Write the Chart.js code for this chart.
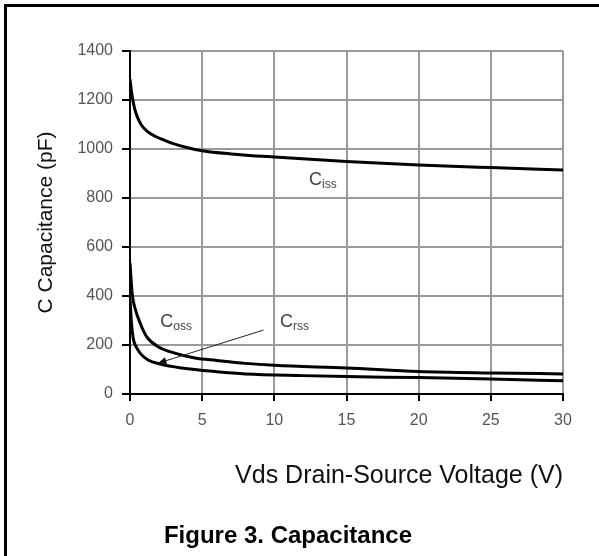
<!DOCTYPE html>
<html>
<head>
    <title>Figure 3. Capacitance</title>
    <script src="https://cdn.jsdelivr.net/npm/chart.js"></script>
    <style>
        html, body { margin: 0; padding: 0; background: #fff; }
        #frame {
            position: relative;
            width: 599px;
            height: 556px;
            overflow: hidden;
        }
        #frame::before {
            content: '';
            position: absolute;
            left: 4px; top: 4px; right: 0; bottom: 0;
            border-top: 3px solid #000;
            border-left: 3px solid #000;
            pointer-events: none;
            z-index: 2;
        }
    </style>
</head>
<body>
    <div id="frame">
        <canvas id="capChart" width="599" height="556"></canvas>
    </div>

    <script>
        // Vds (V) and capacitance (pF)
        const cissVds = [0, 0.15, 0.3, 0.5, 0.8, 1.2, 1.7, 2.3, 3, 4, 5, 7, 10, 15, 20, 25, 30];
        const cissPf  = [1285, 1215, 1170, 1132, 1097, 1072, 1053, 1038, 1022, 1005, 993, 980, 967, 949, 935, 924, 914];

        const cossVds = [0, 0.15, 0.35, 0.7, 1.15, 1.95, 3.1, 4.5, 6, 8, 10, 15, 20, 25, 30];
        const cossPf  = [535, 410, 350, 290, 234, 193, 167, 147, 137, 125, 117, 106, 92, 86, 82];

        const crssVds = [0, 0.1, 0.23, 0.45, 0.7, 1.25, 2.1, 3.6, 6, 8, 12, 15, 20, 25, 30];
        const crssPf  = [390, 290, 225, 190, 167, 139, 122, 106, 91, 82, 75, 71, 67, 61, 54];

        const xTicks = [0, 5, 10, 15, 20, 25, 30];
        const yTicks = [0, 200, 400, 600, 800, 1000, 1200, 1400];

        // curve labels (main letter + subscript) and the Crss pointer, in data units
        const curveLabels = [
            { x: 12.4, y: 853, main: 'C', sub: 'iss' },
            { x: 2.1, y: 272, main: 'C', sub: 'oss' },
            { x: 10.4, y: 272, main: 'C', sub: 'rss' }
        ];
        const crssArrow = { from: [9.25, 261], to: [1.9, 125] };

        function toPoints(xs, ys) {
            return xs.map((x, i) => ({ x: x, y: ys[i] }));
        }

        const FONT = "'Liberation Sans', Arial, sans-serif";

        const annotate = {
            id: 'annotate',
            afterDatasetsDraw(chart) {
                const ctx = chart.ctx;
                const xs = chart.scales.x, ys = chart.scales.y;
                ctx.save();

                // pointer to Crss
                const x1 = xs.getPixelForValue(crssArrow.from[0]);
                const y1 = ys.getPixelForValue(crssArrow.from[1]);
                const x2 = xs.getPixelForValue(crssArrow.to[0]);
                const y2 = ys.getPixelForValue(crssArrow.to[1]);
                ctx.strokeStyle = '#222';
                ctx.lineWidth = 1;
                ctx.beginPath();
                ctx.moveTo(x1, y1);
                ctx.lineTo(x2, y2);
                ctx.stroke();
                const ang = Math.atan2(y2 - y1, x2 - x1);
                const len = 9, wid = 3.5;
                ctx.fillStyle = '#111';
                ctx.beginPath();
                ctx.moveTo(x2, y2);
                ctx.lineTo(x2 - len * Math.cos(ang) - wid * Math.sin(ang), y2 - len * Math.sin(ang) + wid * Math.cos(ang));
                ctx.lineTo(x2 - len * Math.cos(ang) + wid * Math.sin(ang), y2 - len * Math.sin(ang) - wid * Math.cos(ang));
                ctx.closePath();
                ctx.fill();

                // curve labels
                ctx.fillStyle = '#444';
                ctx.textBaseline = 'alphabetic';
                ctx.textAlign = 'left';
                curveLabels.forEach(l => {
                    const px = xs.getPixelForValue(l.x);
                    const py = ys.getPixelForValue(l.y);
                    ctx.font = '18px ' + FONT;
                    ctx.fillText(l.main, px, py);
                    const w = ctx.measureText(l.main).width;
                    ctx.font = '12px ' + FONT;
                    ctx.fillText(l.sub, px + w, py + 3);
                });

                // figure caption
                ctx.fillStyle = '#000';
                ctx.font = 'bold 24px ' + FONT;
                ctx.textAlign = 'center';
                ctx.textBaseline = 'middle';
                ctx.fillText('Figure 3. Capacitance', 288, 536);
                ctx.restore();
            }
        };

        const lineStyle = {
            borderColor: '#000',
            borderWidth: 3,
            pointRadius: 0,
            showLine: true,
            fill: false,
            cubicInterpolationMode: 'monotone'
        };

        const ctx = document.getElementById('capChart').getContext('2d');
        const chart = new Chart(ctx, {
            type: 'scatter',
            data: {
                datasets: [
                    Object.assign({ label: 'Ciss', data: toPoints(cissVds, cissPf) }, lineStyle),
                    Object.assign({ label: 'Coss', data: toPoints(cossVds, cossPf) }, lineStyle),
                    Object.assign({ label: 'Crss', data: toPoints(crssVds, crssPf) }, lineStyle)
                ]
            },
            options: {
                responsive: false,
                animation: false,
                layout: { padding: { top: 51, right: 36, left: 0, bottom: 0 } },
                plugins: {
                    legend: { display: false },
                    tooltip: { enabled: false }
                },
                scales: {
                    x: {
                        type: 'linear',
                        min: 0,
                        max: 30,
                        afterBuildTicks: scale => { scale.ticks = xTicks.map(v => ({ value: v })); },
                        afterFit: scale => { scale.height = 162; },
                        grid: { color: '#9a9a9a', lineWidth: 2, tickColor: '#000', tickLength: 7 },
                        border: { color: '#000', width: 2 },
                        ticks: {
                            color: '#555', padding: 10,
                            font: { family: FONT, size: 16 },
                            callback: v => String(v)
                        },
                        title: {
                            display: true,
                            text: 'Vds Drain-Source Voltage (V)',
                            color: '#111',
                            align: 'end',
                            font: { family: FONT, size: 25 },
                            padding: { top: 0, bottom: 65 }
                        }
                    },
                    y: {
                        type: 'linear',
                        min: 0,
                        max: 1400,
                        afterBuildTicks: scale => { scale.ticks = yTicks.map(v => ({ value: v })); },
                        afterFit: scale => { scale.width = 130; },
                        grid: { color: '#9a9a9a', lineWidth: 2, tickColor: '#000', tickLength: 8 },
                        border: { color: '#000', width: 2 },
                        ticks: {
                            color: '#555', padding: 9,
                            font: { family: FONT, size: 16 },
                            callback: v => String(v)
                        },
                        title: {
                            display: true,
                            text: 'C Capacitance (pF)',
                            color: '#111',
                            font: { family: FONT, size: 21 },
                            padding: { top: 34, bottom: 0 }
                        }
                    }
                }
            },
            plugins: [annotate]
        });
    </script>
</body>
</html>
